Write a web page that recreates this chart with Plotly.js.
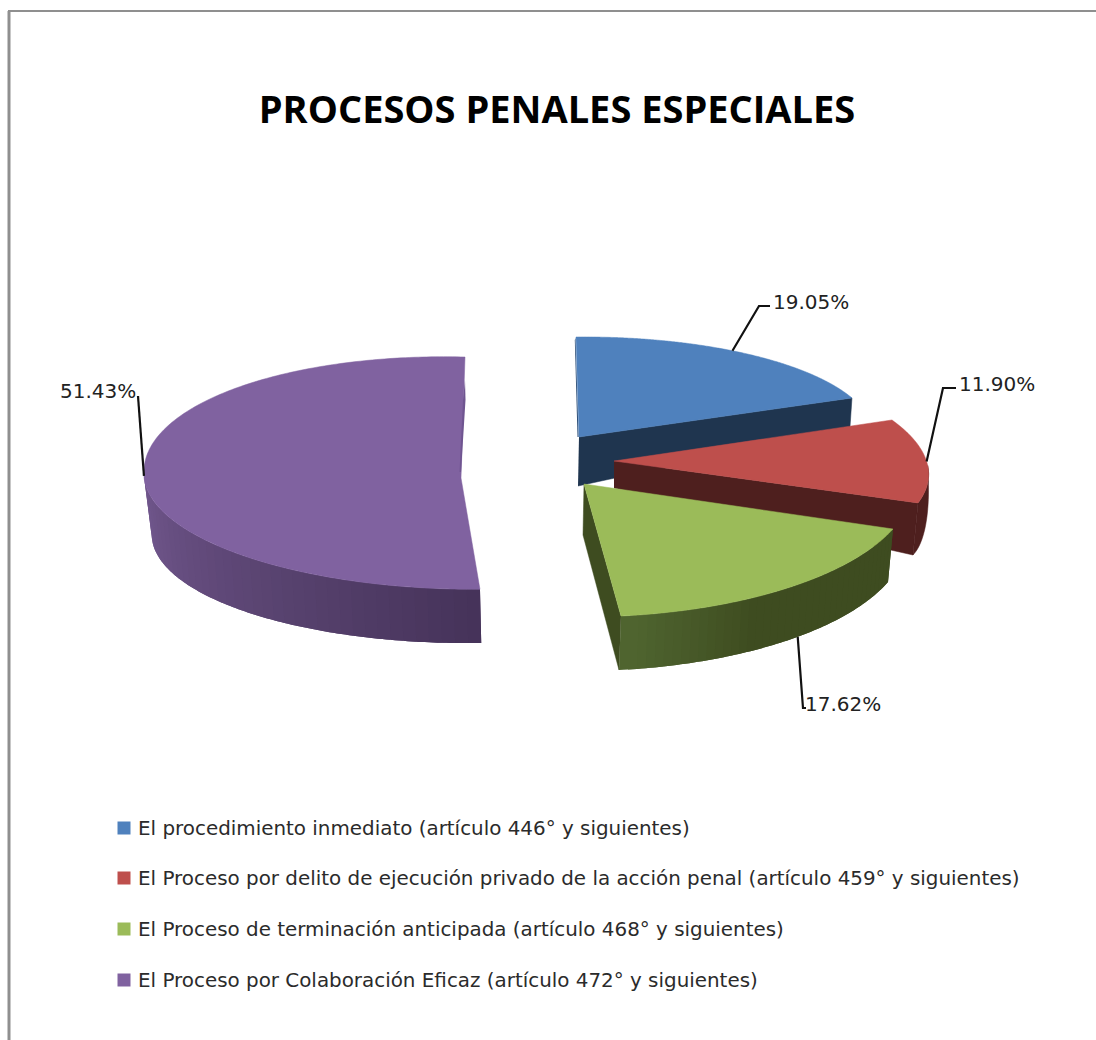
<!DOCTYPE html>
<html>
<head>
<meta charset="utf-8">
<script src="https://cdn.plot.ly/plotly-3.0.1.min.js"></script>
<style>html,body{margin:0;padding:0;background:#fff}#chart{width:1096px;height:1040px}</style>
</head>
<body>
<div id="chart"></div>
<script>
// ---- data ----
const chartTitle = 'PROCESOS PENALES ESPECIALES';
const categories = [
  'El procedimiento inmediato (artículo 446° y siguientes)',
  'El Proceso por delito de ejecución privado de la acción penal (artículo 459° y siguientes)',
  'El Proceso de terminación anticipada (artículo 468° y siguientes)',
  'El Proceso por Colaboración Eficaz (artículo 472° y siguientes)'
];
const values = [19.05, 11.90, 17.62, 51.43];

// ---- styles ----
const topColors  = ['#4F81BD', '#BE4F4C', '#9BBB59', '#8062A0'];
const wallColors = ['#1F354F', '#4E1F1E', '#3E4C20', '#46335A'];
const FONT = 'DejaVu Sans';

// ---- projection of each exploded slice (apex A, axis vectors U, V) ----
const proj = [
  {A:[579,437], U:[294.4,-2.7], V:[-3,-100]},
  {A:[614,461], U:[312.6,0.5],  V:[-35.6,-113.6]},
  {A:[584,484], U:[329,-3.8],   V:[-7.5,-132.9]},
  {A:[461,478], U:[317,8],      V:[4,-121], Vlow:[9.5,-111]}
];
const purpleBottom = {A:[466,535], U:[314,5], V:[13,-108]};
const leaderAngle = [32, 90, 140, 267];
const leaderBends = [[[759,306],[770,306]], [[943,388],[956,388]], [[803,708],[806,708]], [[138,396]]];
const labelPos = [[773,302,'left'], [959,384,'left'], [805,704,'left'], [136,391,'right']];
const legendY = [828, 878, 929, 980];

// ---- angles from the values ----
const total = values.reduce((a,b)=>a+b,0);
const bounds = [0];
values.forEach(v => bounds.push(bounds[bounds.length-1] + v/total*360));

function at(p, deg){
  const r = deg*Math.PI/180, s = Math.sin(r), c = Math.cos(r);
  const V = (c < 0 && p.Vlow) ? p.Vlow : p.V;
  return [p.A[0]+p.U[0]*s+V[0]*c, p.A[1]+p.U[1]*s+V[1]*c];
}
function arc(p,a,b,n){
  const out=[]; for(let i=0;i<=n;i++) out.push(at(p,a+(b-a)*i/n)); return out;
}
function lerpColor(c1,c2,f){
  return 'rgb('+c1.map((v,i)=>Math.round(v+(c2[i]-v)*f)).join(',')+')';
}
const traces = [];
function poly(pts,color,lw,name){
  traces.push({type:'scatter',mode:'lines',x:pts.map(p=>p[0]),y:pts.map(p=>p[1]),
    fill:'toself',fillcolor:color,line:{color:color,width:lw===undefined?0.5:lw,simplify:false},
    hoverinfo:name?'name':'skip',name:name||'',showlegend:false});
}
function slice(i){
  const p=proj[i];
  const pts=[p.A].concat(arc(p,bounds[i],bounds[i+1],240));
  pts.push(p.A);
  poly(pts,topColors[i],0.5,categories[i]+': '+values[i].toFixed(2)+'%');
}
function shift(pt,d){return [pt[0]+d[0],pt[1]+d[1]];}

// Purple: outer wall with gradient (strips overlap so no seams show)
(function(){
  const i=3,p=proj[i],a=bounds[3],b=270,n=40;
  const dark=[70,51,90],light=[115,89,143];
  for(let k=n-1;k>=0;k--){
    const t0=a+(b-a)*k/n,t1=a+(b-a)*(k+1)/n,t2=Math.max(a,t0-(b-a)/n);
    const pts=[];
    arc(p,t2,t1,6).forEach(q=>pts.push(q));
    arc(purpleBottom,t1,t2,6).forEach(q=>pts.push(q));
    poly(pts,lerpColor(dark,light,k/(n-1)),0);
  }
  slice(i);
  poly([[465,380],[465.5,400],[461,472],[459.5,472],[463,400]],'#6F5590',0);
})();

// Blue
poly([[579,437],at(proj[0],bounds[1]),[850,427],[578,486]],wallColors[0]);
poly([[575.5,338],[578.6,437],[577.5,437],[574.8,340]],'#2F5078',0);
slice(0);

// Red
poly([proj[1].A,at(proj[1],bounds[2]),[913,555],[614,488]],wallColors[1]);
(function(){
  const p=proj[1],t0=92,t1=bounds[2],n=24,d=[-5,52],top=arc(p,t0,t1,n);
  const bot=top.map((q,k)=>{
    const u=k/n,f=Math.sin(Math.PI/2*u);
    return shift(q,[d[0]*f+2.5*Math.sin(Math.PI*u),d[1]*f]);
  });
  poly(top.concat(bot.reverse()),wallColors[1]);
})();
slice(1);

// Green
poly([proj[2].A,[583,535],[619,670],at(proj[2],bounds[3])],wallColors[2]);
(function(){
  const p=proj[2],t0=bounds[2],t1=bounds[3],n=40;
  const d0=[-5,53],d1=[-2,54],dark=[62,76,32],light=[80,102,48];
  const off=f=>[d0[0]+(d1[0]-d0[0])*f,d0[1]+(d1[1]-d0[1])*f];
  for(let k=0;k<n;k++){
    const f0=Math.max(0,(k-1)/n),f1=(k+1)/n;
    const top=arc(p,t0+(t1-t0)*f0,t0+(t1-t0)*f1,4);
    const bot=top.map((q,j)=>shift(q,off(f0+(f1-f0)*j/4)));
    const g=Math.max(0,(k/n-0.62)/0.38);
    poly(top.concat(bot.reverse()),lerpColor(dark,light,g),0);
  }
})();
slice(2);

// Leader lines
values.forEach((v,i)=>{
  let start=at(proj[i],leaderAngle[i]);
  if(i===2) start=shift(start,[-3.5,53.5]);
  const pts=[start].concat(leaderBends[i]);
  traces.push({type:'scatter',mode:'lines',x:pts.map(q=>q[0]),y:pts.map(q=>q[1]),
    line:{color:'#111',width:2.2},hoverinfo:'skip',showlegend:false});
});

// Legend keys
categories.forEach((c,i)=>{
  traces.push({type:'scatter',mode:'markers',x:[124],y:[legendY[i]],name:c,showlegend:false,
    marker:{symbol:'square',size:13,color:topColors[i]},hoverinfo:'name'});
});

const annotations=[];
values.forEach((v,i)=>{
  annotations.push({xref:'x',yref:'y',x:labelPos[i][0],y:labelPos[i][1],xanchor:labelPos[i][2],yanchor:'middle',
    text:v.toFixed(2)+'%',showarrow:false,font:{family:FONT,size:20,color:'#222'},borderpad:0,borderwidth:0});
});
categories.forEach((c,i)=>{
  annotations.push({xref:'x',yref:'y',x:138,y:legendY[i],xanchor:'left',yanchor:'middle',
    text:c,showarrow:false,font:{family:FONT,size:19.9,color:'#2b2b2b'},borderpad:0,borderwidth:0});
});

const layout={
  width:1096,height:1040,margin:{l:0,r:0,t:0,b:0},
  paper_bgcolor:'#fff',plot_bgcolor:'#fff',showlegend:false,
  title:{text:chartTitle,x:557/1096,xanchor:'center',y:1-110/1040,yanchor:'middle',
    font:{family:'Open Sans',size:38,weight:700,color:'#000'}},
  xaxis:{range:[0,1096],visible:false,fixedrange:true},
  yaxis:{range:[1040,0],visible:false,fixedrange:true},
  annotations:annotations,
  shapes:[
    {type:'line',xref:'x',yref:'y',x0:9,y0:11,x1:9,y1:1040,line:{color:'#8f8f8f',width:3}},
    {type:'line',xref:'x',yref:'y',x0:8,y0:11,x1:1096,y1:11,line:{color:'#8f8f8f',width:2}}
  ]
};
Plotly.newPlot('chart',traces,layout,{displayModeBar:false});
</script>
</body>
</html>
